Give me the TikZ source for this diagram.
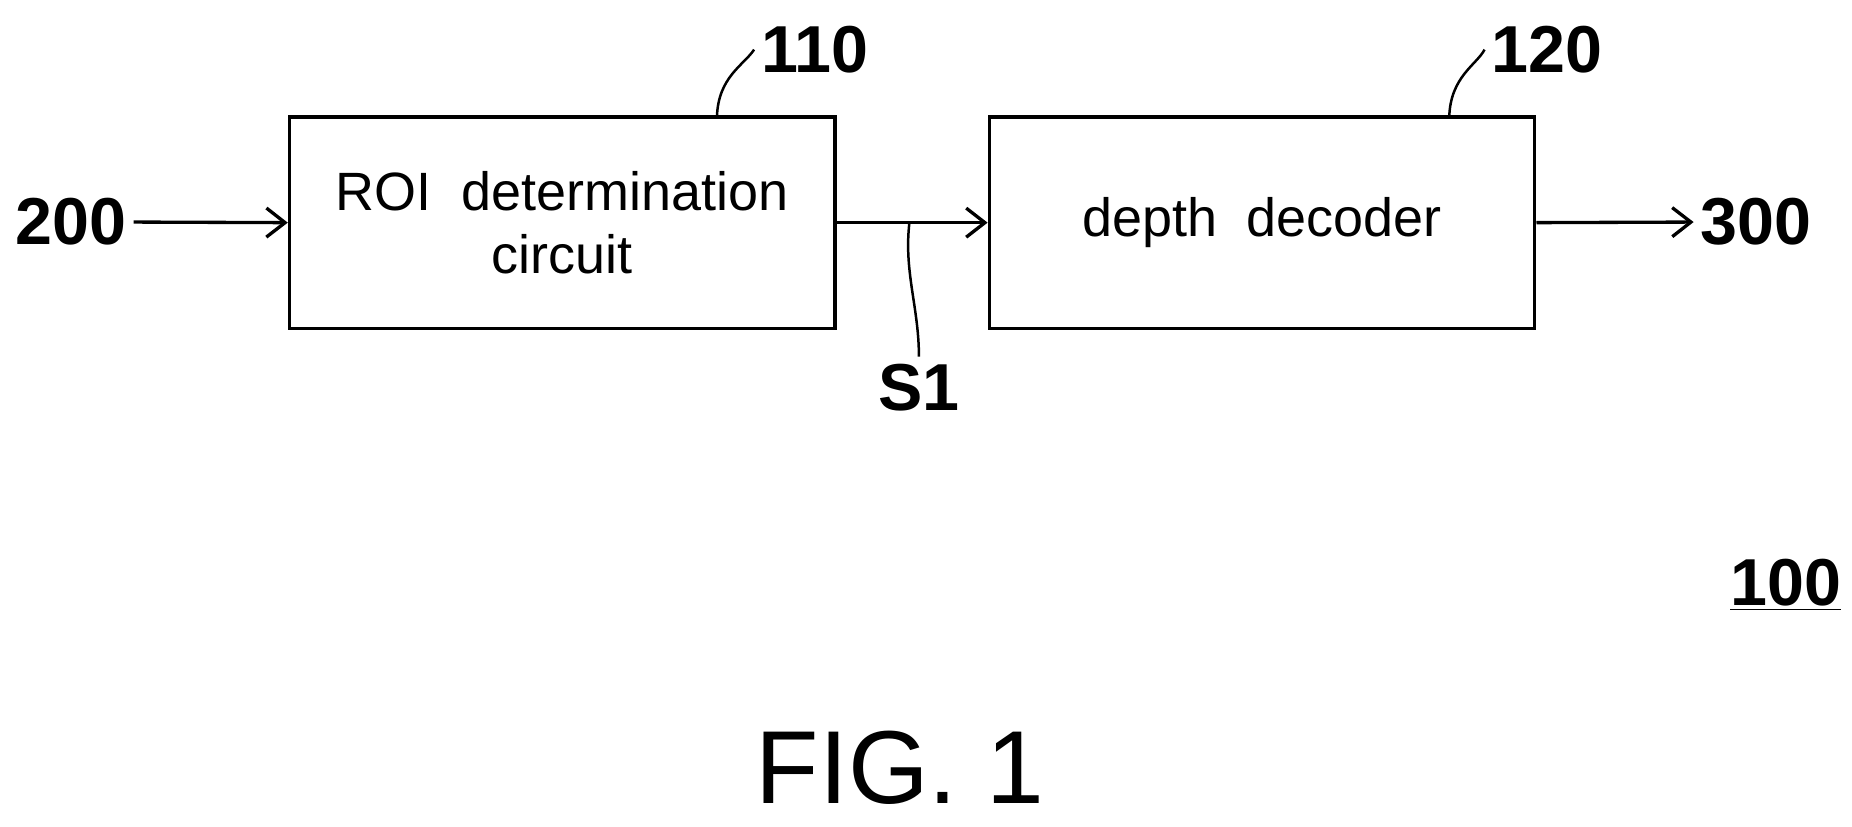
\documentclass[tikz,border=0pt]{standalone}
\usepackage{fontspec}
\setmainfont{Liberation Sans}
\usetikzlibrary{arrows.meta}
\begin{document}
\begin{tikzpicture}[x=0.02cm,y=-0.02cm,
  box/.style={draw,line width=1.6pt,minimum width=9.24cm,minimum height=3.58cm,align=center,font=\fontsize{26}{30}\selectfont},
  lbl/.style={font=\fontsize{32}{36}\selectfont\bfseries},
  arr/.style={line width=1.6pt,-{Straight Barb[length=9pt,width=14pt,line width=1.6pt]}},
  lead/.style={line width=1.2pt}]
\useasboundingbox (0,0) rectangle (1568,700);
\node[box] (b1) at (476,188.5) {ROI~ determination\\circuit};
\node[box] (b2) at (1068.5,188.5) {depth~ decoder};
\node[lbl] (in) at (60,188) {200};
\node[lbl] (out) at (1487,188) {300};
\draw[arr] (in.east) -- (b1.west);
\draw[arr] (b1.east) -- (b2.west);
\draw[arr] (b2.east) -- (out.west);
\coordinate (s) at (770,188);
\node[lbl] (s1) at (778,328) {S1};
\draw[lead] (s) .. controls (765,230) and (778,260) .. (s1.north);
\node[lbl] (n110) at (690,42) {110};
\coordinate (c110) at (607,99);
\draw[lead] (c110) .. controls (608,65) and (630,55) .. (n110.west);
\node[lbl] (n120) at (1310,42) {120};
\coordinate (c120) at (1227,99);
\draw[lead] (c120) .. controls (1228,65) and (1250,55) .. (n120.west);
\node[lbl] (n100) at (1512,495) {\underline{100}};
\node[font=\fontsize{50}{56}\selectfont] (fig) at (762,650) {FIG. 1};
\end{tikzpicture}
\end{document}
